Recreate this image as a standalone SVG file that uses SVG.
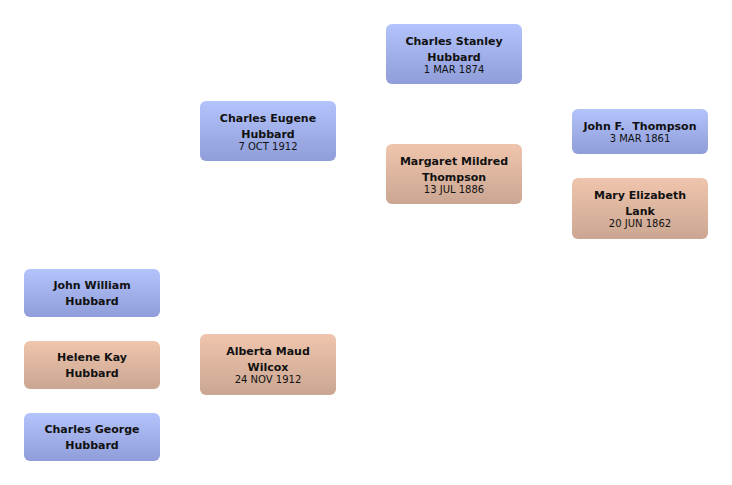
<svg xmlns="http://www.w3.org/2000/svg" width="732" height="485" viewBox="0 0 732 485">
<defs>
<linearGradient id="gm" x1="0" y1="0" x2="0" y2="1">
<stop offset="0" stop-color="#b3c3fb"/>
<stop offset="1" stop-color="#8f9dd8"/>
</linearGradient>
<linearGradient id="gf" x1="0" y1="0" x2="0" y2="1">
<stop offset="0" stop-color="#f0c5ad"/>
<stop offset="1" stop-color="#caa692"/>
</linearGradient>
<style>
.m{fill:url(#gm);}
.f{fill:url(#gf);}
.n{font-family:"DejaVu Sans",sans-serif;font-weight:bold;font-size:11px;fill:#111;text-anchor:middle;}
.d{font-family:"DejaVu Sans",sans-serif;font-size:10px;fill:#111;text-anchor:middle;}
</style>
</defs>
<rect width="732" height="485" fill="#fff"/>
<g id="connectors"></g>
<g id="charles-stanley">
<rect class="m" x="386" y="24" width="136" height="60" rx="6"/>
<text class="n" x="454" y="45">Charles Stanley</text>
<text class="n" x="454" y="61">Hubbard</text>
<text class="d" x="454" y="73">1 MAR 1874</text>
</g>
<g id="margaret">
<rect class="f" x="386" y="144" width="136" height="60" rx="6"/>
<text class="n" x="454" y="165">Margaret Mildred</text>
<text class="n" x="454" y="181">Thompson</text>
<text class="d" x="454" y="193">13 JUL 1886</text>
</g>
<g id="john-f">
<rect class="m" x="572" y="109" width="136" height="45" rx="6"/>
<text class="n" x="640" y="130" xml:space="preserve">John F.  Thompson</text>
<text class="d" x="640" y="142">3 MAR 1861</text>
</g>
<g id="mary">
<rect class="f" x="572" y="178" width="136" height="61" rx="6"/>
<text class="n" x="640" y="199">Mary Elizabeth</text>
<text class="n" x="640" y="215">Lank</text>
<text class="d" x="640" y="227">20 JUN 1862</text>
</g>
<g id="charles-eugene">
<rect class="m" x="200" y="101" width="136" height="60" rx="6"/>
<text class="n" x="268" y="122">Charles Eugene</text>
<text class="n" x="268" y="138">Hubbard</text>
<text class="d" x="268" y="150">7 OCT 1912</text>
</g>
<g id="alberta">
<rect class="f" x="200" y="334" width="136" height="61" rx="6"/>
<text class="n" x="268" y="355">Alberta Maud</text>
<text class="n" x="268" y="371">Wilcox</text>
<text class="d" x="268" y="383">24 NOV 1912</text>
</g>
<g id="john-william">
<rect class="m" x="24" y="269" width="136" height="48" rx="6"/>
<text class="n" x="92" y="289">John William</text>
<text class="n" x="92" y="305">Hubbard</text>
</g>
<g id="helene">
<rect class="f" x="24" y="341" width="136" height="48" rx="6"/>
<text class="n" x="92" y="361">Helene Kay</text>
<text class="n" x="92" y="377">Hubbard</text>
</g>
<g id="charles-george">
<rect class="m" x="24" y="413" width="136" height="48" rx="6"/>
<text class="n" x="92" y="433">Charles George</text>
<text class="n" x="92" y="449">Hubbard</text>
</g>
</svg>
